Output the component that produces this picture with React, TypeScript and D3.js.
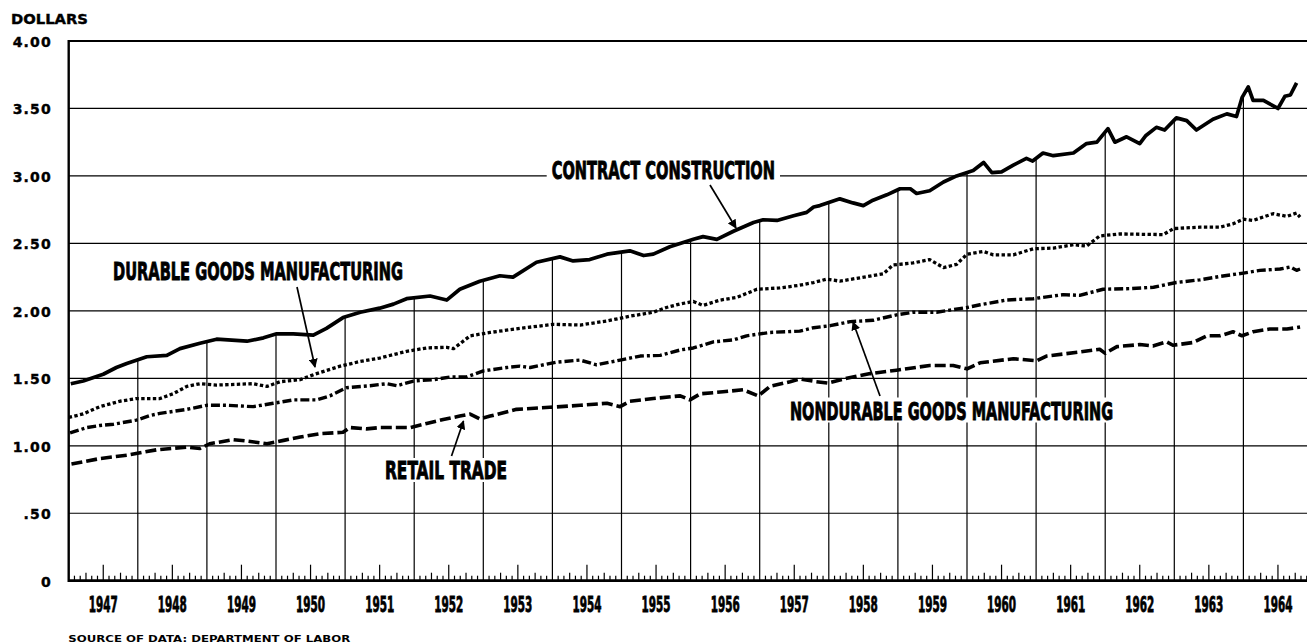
import React from "react";
import * as d3 from "d3";

// ---- Data (average hourly earnings, dollars) ----
const contractConstruction: [number, number][] = [
  [1947.03, 1.46], [1947.21, 1.48], [1947.5, 1.53], [1947.69, 1.58], [1947.84, 1.61],
  [1948.13, 1.66], [1948.42, 1.67], [1948.61, 1.72], [1948.9, 1.76], [1949.14, 1.79],
  [1949.58, 1.775], [1949.82, 1.8], [1950.01, 1.83], [1950.25, 1.83], [1950.54, 1.82],
  [1950.73, 1.87], [1950.97, 1.95], [1951.22, 1.99], [1951.5, 2.02], [1951.7, 2.05],
  [1951.89, 2.09], [1952.23, 2.11], [1952.47, 2.08], [1952.66, 2.16], [1952.95, 2.22],
  [1953.24, 2.26], [1953.43, 2.25], [1953.77, 2.36], [1954.11, 2.4], [1954.3, 2.37],
  [1954.54, 2.38], [1954.79, 2.42], [1955.12, 2.445], [1955.32, 2.41], [1955.46, 2.42],
  [1955.7, 2.475], [1956.04, 2.53], [1956.18, 2.55], [1956.38, 2.53], [1956.62, 2.59],
  [1956.91, 2.655], [1957.05, 2.675], [1957.25, 2.67], [1957.49, 2.705], [1957.68, 2.73],
  [1957.78, 2.77], [1957.87, 2.78], [1958.16, 2.83], [1958.35, 2.8], [1958.5, 2.78],
  [1958.64, 2.82], [1958.84, 2.86], [1959.03, 2.905], [1959.18, 2.905], [1959.27, 2.87],
  [1959.46, 2.89], [1959.66, 2.955], [1959.85, 3.0], [1960.09, 3.04], [1960.24, 3.1],
  [1960.36, 3.025], [1960.5, 3.03], [1960.67, 3.08], [1960.86, 3.13], [1960.95, 3.11],
  [1961.1, 3.17], [1961.25, 3.15], [1961.54, 3.17], [1961.73, 3.24], [1961.88, 3.25],
  [1962.04, 3.35], [1962.14, 3.25], [1962.31, 3.29], [1962.5, 3.24], [1962.59, 3.3],
  [1962.74, 3.36], [1962.86, 3.34], [1963.03, 3.43], [1963.18, 3.41], [1963.32, 3.34],
  [1963.56, 3.42], [1963.76, 3.46], [1963.9, 3.44], [1963.98, 3.58], [1964.07, 3.66],
  [1964.14, 3.56], [1964.29, 3.56], [1964.5, 3.5], [1964.6, 3.59], [1964.68, 3.6],
  [1964.77, 3.69],
];

const durableGoods: [number, number][] = [
  [1947.0, 1.21], [1947.21, 1.236], [1947.45, 1.29], [1947.74, 1.33], [1947.98, 1.35],
  [1948.32, 1.35], [1948.51, 1.385], [1948.71, 1.44], [1948.9, 1.46], [1949.14, 1.45],
  [1949.67, 1.46], [1949.87, 1.44], [1950.06, 1.475], [1950.35, 1.49], [1950.56, 1.53],
  [1950.93, 1.59], [1951.22, 1.625], [1951.5, 1.65], [1951.89, 1.7], [1952.18, 1.725],
  [1952.47, 1.73], [1952.57, 1.72], [1952.81, 1.815], [1953.1, 1.84], [1953.53, 1.87],
  [1954.01, 1.9], [1954.4, 1.895], [1954.79, 1.925], [1955.12, 1.96], [1955.46, 1.99],
  [1955.65, 2.025], [1955.84, 2.05], [1956.04, 2.07], [1956.18, 2.04], [1956.43, 2.08],
  [1956.67, 2.1], [1956.96, 2.16], [1957.29, 2.17], [1957.58, 2.19], [1957.78, 2.21],
  [1957.97, 2.235], [1958.16, 2.22], [1958.45, 2.245], [1958.79, 2.275], [1958.93, 2.34],
  [1959.22, 2.355], [1959.46, 2.38], [1959.66, 2.32], [1959.85, 2.345], [1960.0, 2.42],
  [1960.24, 2.44], [1960.38, 2.415], [1960.67, 2.415], [1960.96, 2.46], [1961.25, 2.465],
  [1961.54, 2.49], [1961.73, 2.48], [1961.92, 2.555], [1962.21, 2.57], [1962.84, 2.565],
  [1962.99, 2.61], [1963.37, 2.62], [1963.66, 2.62], [1963.85, 2.645], [1964.0, 2.68],
  [1964.14, 2.67], [1964.43, 2.72], [1964.63, 2.7], [1964.77, 2.725], [1964.82, 2.695],
];

const nondurableGoods: [number, number][] = [
  [1947.02, 1.095], [1947.26, 1.135], [1947.45, 1.15], [1947.65, 1.16], [1947.98, 1.19],
  [1948.18, 1.225], [1948.32, 1.24], [1948.71, 1.27], [1949.0, 1.3], [1949.29, 1.3],
  [1949.67, 1.29], [1949.96, 1.315], [1950.25, 1.34], [1950.59, 1.34], [1950.78, 1.37],
  [1951.02, 1.43], [1951.36, 1.445], [1951.6, 1.46], [1951.75, 1.445], [1951.99, 1.48],
  [1952.28, 1.49], [1952.52, 1.51], [1952.76, 1.51], [1953.0, 1.555], [1953.34, 1.58],
  [1953.53, 1.59], [1953.68, 1.58], [1954.06, 1.62], [1954.4, 1.635], [1954.64, 1.6],
  [1954.98, 1.635], [1955.27, 1.665], [1955.56, 1.67], [1955.85, 1.71], [1956.04, 1.725],
  [1956.33, 1.77], [1956.62, 1.785], [1956.81, 1.815], [1957.15, 1.84], [1957.58, 1.85],
  [1957.78, 1.875], [1958.02, 1.89], [1958.31, 1.92], [1958.64, 1.93], [1958.98, 1.97],
  [1959.22, 1.99], [1959.56, 1.99], [1960.0, 2.025], [1960.19, 2.045], [1960.57, 2.08],
  [1960.96, 2.09], [1961.39, 2.12], [1961.63, 2.115], [1961.97, 2.16], [1962.36, 2.165],
  [1962.7, 2.175], [1963.03, 2.21], [1963.37, 2.23], [1963.66, 2.255], [1964.0, 2.28],
  [1964.24, 2.3], [1964.53, 2.31], [1964.68, 2.325], [1964.77, 2.3], [1964.82, 2.31],
];

const retailTrade: [number, number][] = [
  [1947.04, 0.865], [1947.45, 0.905], [1947.84, 0.93], [1948.27, 0.97], [1948.71, 0.99],
  [1948.9, 0.98], [1949.04, 1.015], [1949.38, 1.045], [1949.58, 1.035], [1949.87, 1.015],
  [1950.11, 1.04], [1950.35, 1.065], [1950.64, 1.09], [1950.97, 1.1], [1951.07, 1.135],
  [1951.31, 1.125], [1951.5, 1.135], [1951.94, 1.135], [1952.18, 1.165], [1952.42, 1.195],
  [1952.66, 1.22], [1952.81, 1.235], [1952.95, 1.2], [1953.1, 1.22], [1953.48, 1.27],
  [1953.96, 1.285], [1954.4, 1.3], [1954.79, 1.315], [1954.98, 1.29], [1955.12, 1.33],
  [1955.46, 1.35], [1955.85, 1.37], [1955.99, 1.34], [1956.14, 1.385], [1956.47, 1.4],
  [1956.76, 1.415], [1956.98, 1.37], [1957.15, 1.44], [1957.44, 1.475], [1957.58, 1.495],
  [1957.82, 1.475], [1957.99, 1.465], [1958.26, 1.5], [1958.6, 1.535], [1958.98, 1.56],
  [1959.46, 1.595], [1959.8, 1.595], [1960.0, 1.57], [1960.19, 1.615], [1960.67, 1.645],
  [1961.01, 1.63], [1961.15, 1.665], [1961.63, 1.695], [1961.92, 1.715], [1962.0, 1.685],
  [1962.17, 1.735], [1962.5, 1.75], [1962.69, 1.74], [1962.89, 1.77], [1962.98, 1.745],
  [1963.27, 1.765], [1963.47, 1.815], [1963.66, 1.815], [1963.85, 1.845], [1963.98, 1.815],
  [1964.14, 1.845], [1964.38, 1.865], [1964.63, 1.865], [1964.82, 1.88],
];

const years: number[] = d3.range(1947, 1965);
const yTicks: number[] = [0, 0.5, 1, 1.5, 2, 2.5, 3, 3.5, 4];
const yTickLabels: string[] = ["0", ".50", "1.00", "1.50", "2.00", "2.50", "3.00", "3.50", "4.00"];

const W = 1307;
const H = 643;
const condensed = "'Liberation Sans Narrow', 'DejaVu Sans Condensed', 'Roboto Condensed', sans-serif";
const wide = "'DejaVu Sans', Verdana, sans-serif";

export default function App() {
  const x = d3.scaleLinear().domain([1947, 1965]).range([68.7, 1312.5]);
  const y = d3.scaleLinear().domain([0, 4]).range([580.7, 41]);
  const line = d3
    .line<[number, number]>()
    .x((d) => x(d[0]))
    .y((d) => y(d[1]));

  const bis = d3.bisector((d: [number, number]) => d[0]).left;
  const valueAt = (s: [number, number][], t: number) => {
    const i = Math.max(1, Math.min(s.length - 1, bis(s, t)));
    const a = s[i - 1];
    const b = s[i];
    const k = (t - a[0]) / (b[0] - a[0]);
    return a[1] + (b[1] - a[1]) * k;
  };

  const x0 = x(1947);
  const baseY = y(0);

  // monthly ticks on the base line
  const months: { t: number; h: number }[] = [];
  for (let m = 1; m < 18 * 12; m++) {
    if (m % 12 === 0) continue;
    const t = 1947 + m / 12;
    if (x(t) > W) break;
    const mm = m % 12;
    const h = mm === 6 ? 16 : mm % 3 === 0 ? 8 : 5;
    months.push({ t, h });
  }

  const labels = [
    { text: "CONTRACT CONSTRUCTION", x1: 551.7, x2: 775, top: 160.7, bottom: 179.3 },
    { text: "DURABLE GOODS MANUFACTURING", x1: 113, x2: 403, top: 262, bottom: 280 },
    { text: "NONDURABLE GOODS MANUFACTURING", x1: 790, x2: 1113, top: 400.5, bottom: 419.5 },
    { text: "RETAIL TRADE", x1: 385, x2: 507, top: 461, bottom: 479 },
  ];
  const arrows = [
    { x1: 710, y1: 185, x2: 736, y2: 228 },
    { x1: 297, y1: 287, x2: 315, y2: 367 },
    { x1: 880, y1: 396, x2: 853, y2: 322 },
    { x1: 451.5, y1: 456, x2: 463.5, y2: 421 },
  ];

  const series = [
    { data: retailTrade, dash: "11 4", width: 3.6 },
    { data: nondurableGoods, dash: "9 3 3 3", width: 3.4 },
    { data: durableGoods, dash: "3.4 2.4", width: 3.3 },
    { data: contractConstruction, dash: undefined, width: 3.7 },
  ];

  return (
    <svg
      width={W}
      height={H}
      viewBox={`0 0 ${W} ${H}`}
      style={{ position: "absolute", left: 0, top: 0, background: "#fff" }}
    >
      <defs>
        <marker id="ah" viewBox="0 0 10 10" refX="9" refY="5" markerWidth="9" markerHeight="9" markerUnits="userSpaceOnUse" orient="auto">
          <path d="M0,0 L10,5 L0,10 z" fill="#000" />
        </marker>
      </defs>
      <rect x={0} y={0} width={W} height={H} fill="#fff" />

      {/* horizontal grid */}
      {yTicks.map((v) => (
        <line
          key={"h" + v}
          x1={x0}
          x2={W}
          y1={y(v)}
          y2={y(v)}
          stroke="#000"
          strokeWidth={v === 0 ? 2.8 : v === 4 ? 1.8 : 1.2}
        />
      ))}

      {/* vertical year grid lines, rising to the contract construction curve */}
      {years.slice(1).map((yr) => (
        <line
          key={"v" + yr}
          x1={x(yr)}
          x2={x(yr)}
          y1={baseY}
          y2={y(valueAt(contractConstruction, yr))}
          stroke="#000"
          strokeWidth={1.2}
        />
      ))}

      {/* month ticks */}
      {months.map((m, i) => (
        <line key={"m" + i} x1={x(m.t)} x2={x(m.t)} y1={baseY} y2={baseY - m.h} stroke="#000" strokeWidth={1.2} />
      ))}

      {/* left axis */}
      <line x1={x0} x2={x0} y1={y(4) - 0.9} y2={baseY + 1.4} stroke="#000" strokeWidth={2.4} />

      {/* series */}
      {series.map((s, i) => (
        <path
          key={"s" + i}
          d={line(s.data) || ""}
          fill="none"
          stroke="#000"
          strokeWidth={s.width}
          strokeDasharray={s.dash}
          strokeLinejoin="round"
        />
      ))}

      {/* label backgrounds and labels */}
      {labels.map((l) => (
        <g key={l.text}>
          <rect x={l.x1 - 5} y={l.top - 3} width={l.x2 - l.x1 + 10} height={l.bottom - l.top + 6} fill="#fff" />
          <text
            x={l.x1}
            y={l.bottom}
            textLength={l.x2 - l.x1}
            lengthAdjust="spacingAndGlyphs"
            fontFamily={condensed}
            fontWeight="bold"
            fontSize={25}
            fill="#000"
            stroke="#000"
            strokeWidth={0.9}
          >
            {l.text}
          </text>
        </g>
      ))}

      {/* arrows */}
      {arrows.map((a, i) => (
        <line key={"a" + i} x1={a.x1} y1={a.y1} x2={a.x2} y2={a.y2} stroke="#000" strokeWidth={1.7} markerEnd="url(#ah)" />
      ))}

      {/* y tick labels */}
      {yTicks.map((v, i) => (
        <text
          key={"yl" + v}
          x={52}
          y={y(v) + 6}
          textAnchor="end"
          fontFamily={wide}
          fontWeight="bold"
          fontSize={14}
          letterSpacing={1.2}
          fill="#000"
          stroke="#000"
          strokeWidth={0.4}
        >
          {yTickLabels[i]}
        </text>
      ))}

      <text x={11} y={24.3} textLength={77} lengthAdjust="spacingAndGlyphs" fontFamily={wide} fontWeight="bold" fontSize={14.5} fill="#000" stroke="#000" strokeWidth={0.4}>
        DOLLARS
      </text>

      {/* year labels */}
      {years.map((yr) => (
        <text
          key={"yr" + yr}
          x={x(yr + 0.5)}
          y={611.7}
          textAnchor="middle"
          textLength={29}
          lengthAdjust="spacingAndGlyphs"
          fontFamily={condensed}
          fontWeight="bold"
          fontSize={21}
          fill="#000"
          stroke="#000"
          strokeWidth={0.8}
        >
          {String(yr)}
        </text>
      ))}

      <text x={68.3} y={641.5} textLength={282} lengthAdjust="spacingAndGlyphs" fontFamily={wide} fontWeight="bold" fontSize={9.5} fill="#000">
        SOURCE OF DATA: DEPARTMENT OF LABOR
      </text>
    </svg>
  );
}
